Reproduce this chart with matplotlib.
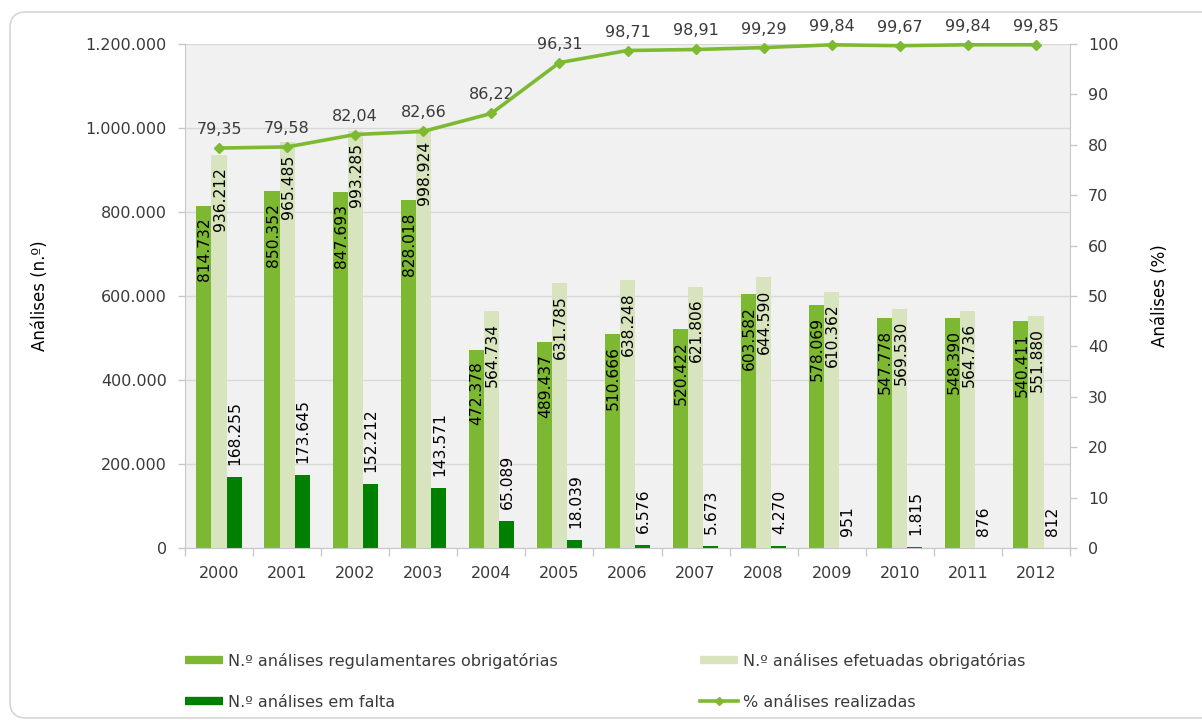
import matplotlib
matplotlib.use("Agg")
import matplotlib.pyplot as plt
from matplotlib.patches import FancyBboxPatch
from matplotlib.lines import Line2D
from matplotlib.transforms import IdentityTransform, offset_copy
from matplotlib.ticker import FuncFormatter, MultipleLocator, FixedLocator, NullFormatter
import numpy as np

# ---- data -------------------------------------------------------------
years = ["2000", "2001", "2002", "2003", "2004", "2005", "2006",
         "2007", "2008", "2009", "2010", "2011", "2012"]
regulamentares = [814732, 850352, 847693, 828018, 472378, 489437, 510666,
                  520422, 603582, 578069, 547778, 548390, 540411]
efetuadas = [936212, 965485, 993285, 998924, 564734, 631785, 638248,
             621806, 644590, 610362, 569530, 564736, 551880]
em_falta = [168255, 173645, 152212, 143571, 65089, 18039, 6576,
            5673, 4270, 951, 1815, 876, 812]
pct_realizadas = [79.35, 79.58, 82.04, 82.66, 86.22, 96.31, 98.71,
                  98.91, 99.29, 99.84, 99.67, 99.84, 99.85]

series_labels = ["N.º análises regulamentares obrigatórias",
                 "N.º análises efetuadas obrigatórias",
                 "N.º análises em falta",
                 "% análises realizadas"]

# ---- style ------------------------------------------------------------
C_REG = "#7DB832"
C_EFE = "#D8E4BE"
C_FAL = "#008000"
C_LINE = "#7DBA32"
C_GRID = "#D9D9D9"
C_AXIS = "#C8C8C8"
C_TEXT = "#3A3A3A"
plt.rcParams["font.family"] = ["DejaVu Sans"]


def thousands(v):
    return f"{v:,.0f}".replace(",", ".")


def decimal_comma(v):
    return f"{v:.2f}".replace(".", ",")


W, H = 1202, 720
fig = plt.figure(figsize=(W / 100, H / 100), dpi=100)
fig.patch.set_facecolor("white")

# rounded outer frame
frame = FancyBboxPatch((10, 2), 1210, 706,
                       boxstyle="round,pad=0,rounding_size=16",
                       transform=IdentityTransform(),
                       facecolor="none", edgecolor="#D6D6D6", lw=1.2)
fig.add_artist(frame)

left, right, top, bottom = 185, 1070, 44, 548
ax = fig.add_axes([left / W, 1 - bottom / H, (right - left) / W, (bottom - top) / H])
ax.set_facecolor("#F1F1F1")

x = np.arange(len(years))
bw = 0.222

ax.bar(x - bw, regulamentares, bw, color=C_REG, zorder=2)
ax.bar(x, efetuadas, bw, color=C_EFE, zorder=2)
ax.bar(x + bw, em_falta, bw, color=C_FAL, zorder=2)

# value labels: inside the top of the two wide series, above the shortfall bars
inside_down = offset_copy(ax.transData, fig=fig, x=1, y=-12, units="dots")
above = offset_copy(ax.transData, fig=fig, x=1, y=12, units="dots")
LBL = 11.2
for i in range(len(years)):
    ax.text(x[i] - bw, regulamentares[i], thousands(regulamentares[i]),
            rotation=90, ha="center", va="top", fontsize=LBL,
            color="black", transform=inside_down, zorder=4)
    ax.text(x[i], efetuadas[i], thousands(efetuadas[i]),
            rotation=90, ha="center", va="top", fontsize=LBL,
            color="black", transform=inside_down, zorder=4)
    ax.text(x[i] + bw, em_falta[i], thousands(em_falta[i]),
            rotation=90, ha="center", va="bottom", fontsize=LBL,
            color="black", transform=above, zorder=4)

ax.set_xlim(-0.5, len(years) - 0.5)
ax.set_ylim(0, 1200000)
ax.yaxis.set_major_locator(MultipleLocator(200000))
ax.yaxis.set_major_formatter(FuncFormatter(lambda v, p: thousands(v)))
ax.grid(axis="y", color=C_GRID, lw=1.0, zorder=0)
ax.set_axisbelow(True)

ax.xaxis.set_major_locator(FixedLocator(x))
ax.set_xticklabels(years)
ax.xaxis.set_minor_locator(FixedLocator(np.arange(-0.5, len(years), 1.0)))
ax.xaxis.set_minor_formatter(NullFormatter())
ax.tick_params(axis="x", which="major", length=0, pad=13, labelsize=11.5, labelcolor=C_TEXT)
ax.tick_params(axis="x", which="minor", length=6, color=C_AXIS, width=1)
ax.tick_params(axis="y", length=5, color=C_AXIS, width=1, pad=8, labelsize=11.5, labelcolor=C_TEXT)

for s in ("top", "right"):
    ax.spines[s].set_visible(False)
for s in ("left", "bottom"):
    ax.spines[s].set_color(C_AXIS)

# percentage line on the secondary axis
ax2 = ax.twinx()
ax2.set_ylim(0, 100)
ax2.yaxis.set_major_locator(MultipleLocator(10))
ax2.tick_params(axis="y", length=5, color=C_AXIS, width=1, pad=8, labelsize=11.5, labelcolor=C_TEXT)
for s in ("top", "left", "bottom"):
    ax2.spines[s].set_visible(False)
ax2.spines["right"].set_color(C_AXIS)
ax2.plot(x, pct_realizadas, color=C_LINE, lw=2.6, marker="D", ms=5.5,
         mec=C_LINE, mfc=C_LINE, clip_on=False, zorder=5)
pct_above = offset_copy(ax2.transData, fig=fig, x=0, y=11, units="dots")
for i, p in enumerate(pct_realizadas):
    ax2.text(x[i], p, decimal_comma(p), ha="center", va="bottom",
             fontsize=11.5, color=C_TEXT, transform=pct_above)

fig.text(40 / W, 1 - 296 / H, "Análises (n.º)", rotation=90, ha="center",
         va="center", fontsize=12, color="black")
fig.text(1160 / W, 1 - 296 / H, "Análises (%)", rotation=90, ha="center",
         va="center", fontsize=12, color="black")

# legend in two columns below the chart
bar_handle = dict(lw=6, solid_capstyle="butt")
h_reg = Line2D([], [], color=C_REG, **bar_handle)
h_efe = Line2D([], [], color=C_EFE, **bar_handle)
h_fal = Line2D([], [], color=C_FAL, **bar_handle)
h_pct = Line2D([], [], color=C_LINE, lw=2.6, marker="D", ms=4, mec=C_LINE)

leg_kw = dict(loc="upper left", frameon=False, fontsize=11.5, borderpad=0,
              borderaxespad=0, handlelength=2.4, handletextpad=0.3,
              labelspacing=1.6, labelcolor=C_TEXT)
fig.legend([h_reg, h_fal], [series_labels[0], series_labels[2]],
           bbox_to_anchor=(185 / W, 1 - 653 / H), **leg_kw)
fig.legend([h_efe, h_pct], [series_labels[1], series_labels[3]],
           bbox_to_anchor=(700 / W, 1 - 653 / H), **leg_kw)

fig.savefig("out.png", dpi=100)
